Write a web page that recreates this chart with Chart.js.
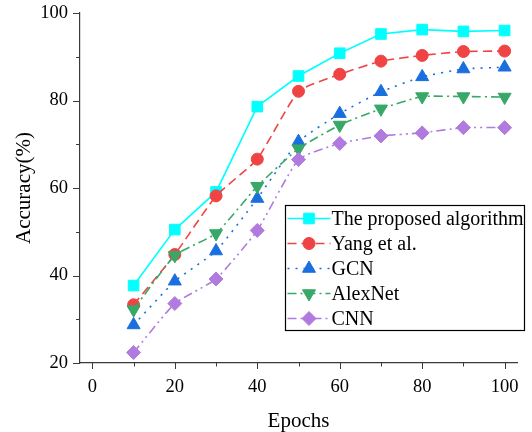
<!DOCTYPE html>
<html>
<head>
<meta charset="utf-8">
<script src="https://cdn.jsdelivr.net/npm/chart.js@4.4.1/dist/chart.umd.min.js"></script>
<style>
  html, body { margin: 0; padding: 0; background: #ffffff; }
  #wrap { width: 532px; height: 432px; }
</style>
</head>
<body>
<div id="wrap"><canvas id="c" width="532" height="432"></canvas></div>
<script>
// ---- Data ----
const epochs = [10, 20, 30, 40, 50, 60, 70, 80, 90, 100];
const seriesNames = ["The proposed algorithm", "Yang et al.", "GCN", "AlexNet", "CNN"];
const proposed = [37.7, 50.5, 59.1, 78.6, 85.6, 90.8, 95.2, 96.2, 95.8, 96.0];
const yang     = [33.3, 44.8, 58.2, 66.6, 82.1, 86.0, 89.0, 90.3, 91.2, 91.3];
const gcn      = [28.7, 38.7, 45.6, 57.6, 70.6, 77.0, 82.0, 85.4, 87.2, 87.6];
const alexnet  = [32.2, 44.6, 49.6, 60.4, 69.0, 74.4, 78.1, 80.9, 80.9, 80.8];
const cnn      = [22.4, 33.6, 39.2, 50.3, 66.5, 70.2, 71.9, 72.6, 73.8, 73.8];
const xTickValues = [0, 20, 40, 60, 80, 100];
const yTickValues = [20, 40, 60, 80, 100];

const serif = "'Liberation Serif', 'Times New Roman', serif";
const axisColor = '#3a3a3a';

function pts(arr) { return epochs.map((e, i) => ({ x: e, y: arr[i] })); }

const styles = [
  { color: '#00FFFF', dash: [], shape: 'rect', radius: 7.5, rot: 0 },
  { color: '#F04343', dash: [9, 5], shape: 'circle', radius: 6, rot: 0 },
  { color: '#1A6FDF', dash: [2, 6], shape: 'triangle', radius: 7.5, rot: 0 },
  { color: '#37A867', dash: [9, 4, 2, 4], shape: 'triangle', radius: 7.5, rot: 180 },
  { color: '#B17ADE', dash: [9, 4, 2, 4, 2, 4], shape: 'rectRot', radius: 7, rot: 0 }
];
const allData = [proposed, yang, gcn, alexnet, cnn];

const datasets = allData.map((arr, i) => ({
  label: seriesNames[i],
  data: pts(arr),
  borderColor: styles[i].color,
  backgroundColor: styles[i].color,
  borderWidth: 1.6,
  borderDash: styles[i].dash,
  pointStyle: styles[i].shape,
  pointRadius: styles[i].radius,
  pointRotation: styles[i].rot,
  pointBorderWidth: 1,
  pointBorderColor: styles[i].color,
  pointBackgroundColor: styles[i].color,
  tension: i === 0 ? 0 : 0.15,
  order: 5 - i
}));

// custom ticks (major + minor) drawn outward
const tickPlugin = {
  id: 'ticks',
  afterDraw(chart) {
    const ctx = chart.ctx;
    const xs = chart.scales.x, ys = chart.scales.y;
    const area = chart.chartArea;
    ctx.save();
    ctx.strokeStyle = axisColor;
    ctx.lineWidth = 1;
    ctx.beginPath();
    for (let v = 0; v <= 100; v += 10) {
      const px = Math.round(xs.getPixelForValue(v)) + 0.5;
      const len = (v % 20 === 0) ? 6 : 3.5;
      ctx.moveTo(px, area.bottom);
      ctx.lineTo(px, area.bottom + len);
    }
    for (let v = 20; v <= 100; v += 10) {
      const py = Math.round(ys.getPixelForValue(v)) + 0.5;
      const len = (v % 20 === 0) ? 7 : 4;
      ctx.moveTo(area.left, py);
      ctx.lineTo(area.left - len, py);
    }
    ctx.stroke();
    ctx.restore();
  }
};

// legend drawn inside the plot area
const legendPlugin = {
  id: 'insideLegend',
  afterDraw(chart) {
    const ctx = chart.ctx;
    const box = { x: 285.5, y: 205.5, w: 239, h: 125 };
    ctx.save();
    ctx.fillStyle = '#ffffff';
    ctx.fillRect(box.x, box.y, box.w, box.h);
    ctx.strokeStyle = '#000000';
    ctx.lineWidth = 1.2;
    ctx.strokeRect(box.x, box.y, box.w, box.h);
    chart.data.datasets.forEach((ds, i) => {
      const cy = box.y + 13 + i * 25;
      const x0 = box.x + 2, x1 = box.x + 45;
      ctx.save();
      ctx.strokeStyle = ds.borderColor;
      ctx.lineWidth = 1.6;
      ctx.setLineDash(ds.borderDash);
      ctx.beginPath();
      ctx.moveTo(x0, cy);
      ctx.lineTo(x1, cy);
      ctx.stroke();
      ctx.restore();
      ctx.save();
      ctx.fillStyle = ds.pointBackgroundColor;
      ctx.strokeStyle = ds.pointBorderColor;
      ctx.lineWidth = 1;
      Chart.helpers.drawPoint(ctx, { pointStyle: ds.pointStyle, radius: ds.pointRadius, rotation: ds.pointRotation, borderWidth: 1 }, (x0 + x1) / 2, cy);
      ctx.restore();
      ctx.fillStyle = '#000000';
      ctx.font = '20px ' + serif;
      ctx.textBaseline = 'middle';
      ctx.textAlign = 'left';
      ctx.fillText(ds.label, box.x + 46, cy + 1);
    });
    ctx.restore();
  }
};

new Chart(document.getElementById('c'), {
  type: 'line',
  data: { datasets },
  options: {
    responsive: false,
    animation: false,
    layout: { padding: { top: 13, right: 15, left: 0, bottom: 0 } },
    plugins: { legend: { display: false }, tooltip: { enabled: false } },
    scales: {
      x: {
        type: 'linear',
        min: -3,
        max: 103,
        afterBuildTicks(scale) { scale.ticks = xTickValues.map(v => ({ value: v })); },
        afterFit(scale) { scale.height = 69; scale.paddingLeft = 0; scale.paddingRight = 0; },
        grid: { display: false, drawTicks: false },
        border: { display: true, color: axisColor, width: 1.2 },
        ticks: { color: '#000', padding: 13, font: { family: serif, size: 18.5 }, maxRotation: 0, autoSkip: false },
        title: { display: true, text: 'Epochs', color: '#000', font: { family: serif, size: 21 }, padding: { top: 0, bottom: -2 } }
      },
      y: {
        type: 'linear',
        min: 20,
        max: 100,
        afterBuildTicks(scale) { scale.ticks = yTickValues.map(v => ({ value: v })); },
        afterFit(scale) { scale.width = 80; scale.paddingTop = 0; scale.paddingBottom = 0; },
        grid: { display: false, drawTicks: false },
        border: { display: true, color: axisColor, width: 1.2 },
        ticks: { color: '#000', padding: 12, font: { family: serif, size: 18.5 }, autoSkip: false },
        title: { display: true, text: 'Accuracy(%)', color: '#000', font: { family: serif, size: 21 }, padding: { top: 12, bottom: 0 } }
      }
    }
  },
  plugins: [tickPlugin, legendPlugin]
});
</script>
</body>
</html>
